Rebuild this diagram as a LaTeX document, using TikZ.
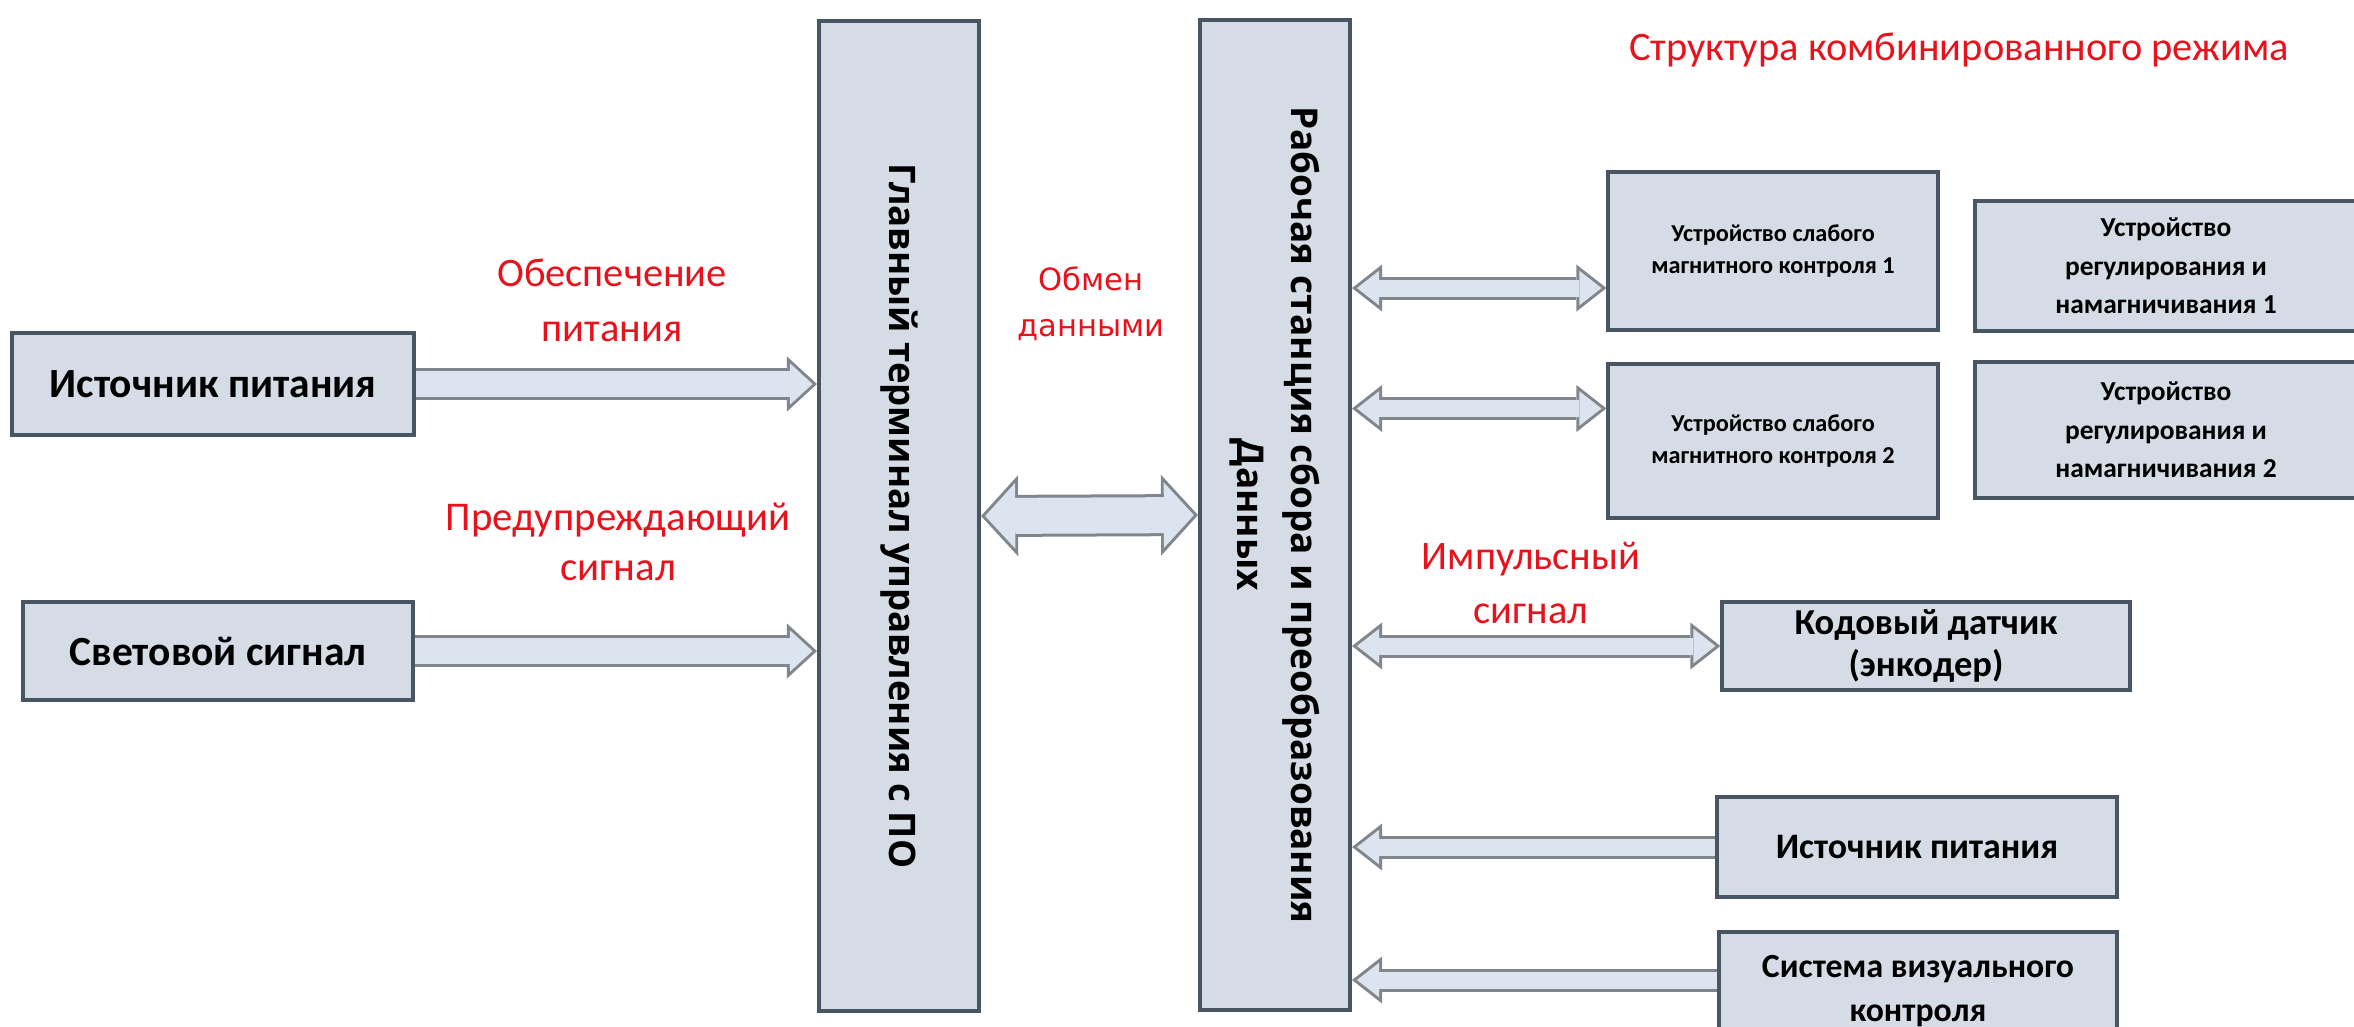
\documentclass[tikz,border=0pt]{standalone}
\usepackage{fontspec}
\setmainfont{Carlito}
\newfontfamily\osans{Open Sans}
\newfontfamily\dvsans{DejaVu Sans}
\usetikzlibrary{arrows.meta,calc}

\definecolor{boxfill}{RGB}{214,220,229}
\definecolor{boxline}{RGB}{72,86,100}
\definecolor{arrowline}{RGB}{128,134,140}
\definecolor{arrowfill}{RGB}{220,228,240}
\definecolor{redtext}{RGB}{232,18,28}

\begin{document}
\begin{tikzpicture}[x=0.01cm,y=-0.01cm,
every node/.style = {
inner sep      = 0pt,
align          = center,
text           = black},
blok/.style = {
shape          = rectangle,
draw           = boxline,
fill           = boxfill,
line width     = 0.04cm},
big text/.style   = {font=\bfseries\fontsize{11.8}{14}\selectfont},
mid text/.style   = {font=\bfseries\fontsize{10.2}{12.5}\selectfont},
small text/.style = {font=\bfseries\fontsize{6.9}{9}\selectfont},
reg text/.style   = {font=\bfseries\fontsize{7.8}{11}\selectfont},
tall text/.style  = {font=\osans\bfseries\fontsize{10.5}{15.4}\selectfont},
red label/.style  = {text=redtext, font=\fontsize{11.5}{15.6}\selectfont},
feed/.style = {draw=arrowline, line width=0.32cm,
  -{Triangle[length=0.30cm,width=0.55cm,line width=0pt]},
  postaction={draw=arrowfill, line width=0.26cm, shorten >=0.044cm,
  -{Triangle[length=0.226cm,width=0.414cm,line width=0pt]}}},
link/.style = {draw=arrowline, line width=0.42cm,
  {Triangle[length=0.37cm,width=0.81cm,line width=0pt]}-{Triangle[length=0.37cm,width=0.81cm,line width=0pt]},
  postaction={draw=arrowfill, line width=0.36cm, shorten >=0.041cm, shorten <=0.041cm,
  {Triangle[length=0.30cm,width=0.656cm,line width=0pt]}-{Triangle[length=0.30cm,width=0.656cm,line width=0pt]}}},
side/.style = {draw=arrowline, line width=0.23cm,
  {Triangle[length=0.30cm,width=0.47cm,line width=0pt]}-{Triangle[length=0.30cm,width=0.47cm,line width=0pt]},
  postaction={draw=arrowfill, line width=0.17cm, shorten >=0.049cm, shorten <=0.049cm,
  {Triangle[length=0.221cm,width=0.346cm,line width=0pt]}-{Triangle[length=0.221cm,width=0.346cm,line width=0pt]}}},
side one/.style = {draw=arrowline, line width=0.23cm,
  -{Triangle[length=0.30cm,width=0.47cm,line width=0pt]},
  postaction={draw=arrowfill, line width=0.17cm, shorten >=0.049cm,
  -{Triangle[length=0.221cm,width=0.346cm,line width=0pt]}}}
]
\useasboundingbox (0,0) rectangle (2354,1026);
%
\node[blok,big text,minimum width=4.02cm,minimum height=1.02cm] (src) at (213,384) {Источник питания};
\node[blok,big text,minimum width=3.89cm,minimum height=0.98cm] (lamp) at (218,651) {Световой сигнал};
\node[blok,tall text,font=\osans\bfseries\fontsize{10.4}{15}\selectfont,rotate=-90,minimum width=9.90cm,minimum height=1.60cm] (term) at (899,516) {Главный терминал управления с ПО};
\node[blok,tall text,rotate=-90,minimum width=9.90cm,minimum height=1.50cm] (station) at (1275,515) {Рабочая станция сбора и преобразования\\Данных};
\node[blok,small text,minimum width=3.29cm,minimum height=1.58cm] (weak1) at (1773,251) {Устройство слабого\\магнитного контроля 1};
\node[blok,small text,minimum width=3.29cm,minimum height=1.53cm] (weak2) at (1773,441) {Устройство слабого\\магнитного контроля 2};
\node[blok,reg text,minimum width=3.82cm,minimum height=1.30cm] (reg1) at (2166,266) {Устройство\\регулирования и\\намагничивания 1};
\node[blok,reg text,minimum width=3.82cm,minimum height=1.36cm] (reg2) at (2166,430) {Устройство\\регулирования и\\намагничивания 2};
\node[blok,font=\bfseries\fontsize{10.4}{12}\selectfont,minimum width=4.07cm,minimum height=0.87cm] (enc) at (1926,646) {Кодовый датчик\\(энкодер)};
\node[blok,mid text,minimum width=4.00cm,minimum height=1.00cm] (src2) at (1917,847) {Источник питания};
\node[blok,font=\bfseries\fontsize{9.6}{12.4}\selectfont,minimum width=3.97cm,minimum height=1.18cm] (visual) at (1918,991) {Система визуального\\контроля};
%
\node[red label] (lsupply) at (612,300) {Обеспечение\\питания};
\node[red label,font=\fontsize{11.6}{14.2}\selectfont] (lwarn) at (618,542) {Предупреждающий\\сигнал};
\node[red label,font=\dvsans\fontsize{8.7}{13}\selectfont] (lexch) at (1091,304) {Обмен\\данными};
\node[red label] (lpulse) at (1531,583) {Импульсный\\сигнал};
\node[red label] (title) at (1959,50) {Структура комбинированного режима};
%
\coordinate (wk1) at ([yshift=-0.37cm]weak1.west);
\coordinate (wk2) at ([yshift=0.325cm]weak2.west);
\coordinate (vis) at ([yshift=0.11cm]visual.west);
%
\draw[feed] (src.east) -- (src.east -| term.south);
\draw[feed] (lamp.east) -- (lamp.east -| term.south);
\draw[link] (term.north) -- (station.south);
\draw[side] (station.north |- wk1) -- (wk1);
\draw[side] (station.north |- wk2) -- (wk2);
\draw[side] (station.north |- enc.west) -- (enc.west);
\draw[side one] (src2.west) -- (src2.west -| station.north);
\draw[side one] (vis) -- (vis -| station.north);
%
\end{tikzpicture}
\end{document}
